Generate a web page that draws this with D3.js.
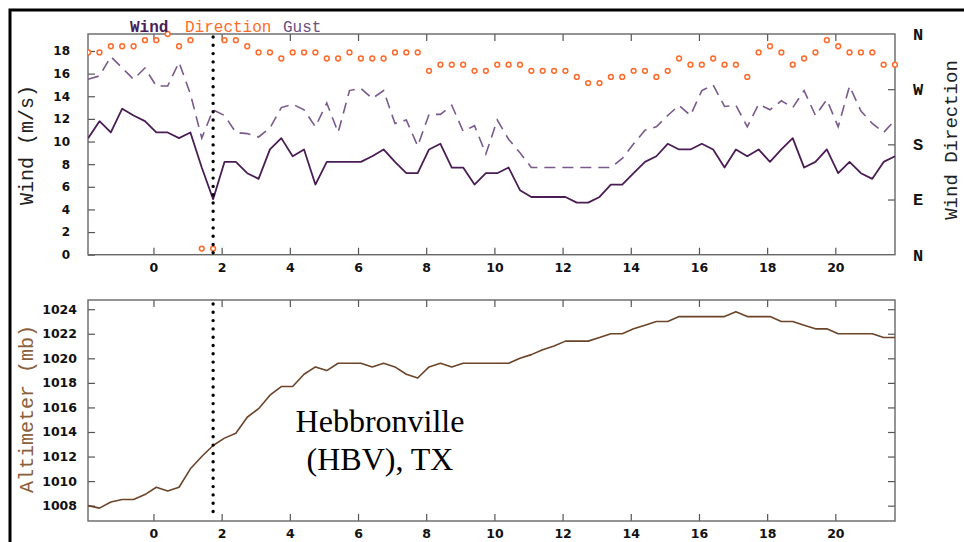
<!DOCTYPE html>
<html>
<head>
<meta charset="utf-8">
<script src="https://cdn.jsdelivr.net/npm/d3@7/dist/d3.min.js"></script>
<style>
  html, body { margin: 0; padding: 0; background: #fff; }
  svg { display: block; }
</style>
</head>
<body>
<svg id="chart" width="964" height="542"></svg>
<script>
// Observation times (local), 20-minute reports starting the previous evening
const obsTimes = [
  "22:05","22:25","22:45","23:05","23:25","23:45",
  "00:05","00:25","00:45","01:05","01:25","01:45","02:05","02:25","02:45",
  "03:05","03:25","03:45","04:05","04:25","04:45","05:05","05:25","05:45",
  "06:05","06:25","06:45","07:05","07:25","07:45","08:05","08:25","08:45",
  "09:05","09:25","09:45","10:05","10:25","10:45","11:05","11:25","11:45",
  "12:05","12:25","12:45","13:05","13:25","13:45","14:05","14:25","14:45",
  "15:05","15:25","15:45","16:05","16:25","16:45","17:05","17:25","17:45",
  "18:05","18:25","18:45","19:05","19:25","19:45","20:05","20:25","20:45",
  "21:05","21:25","21:45"
];

// Sustained wind speed (m/s)
const windSpeed = [
  10.3, 11.8, 10.8, 12.9, 12.3, 11.8, 10.8, 10.8, 10.3, 10.8, 7.7, 4.9,
  8.2, 8.2, 7.2, 6.7, 9.3, 10.3, 8.7, 9.3, 6.2, 8.2, 8.2, 8.2,
  8.2, 8.7, 9.3, 8.2, 7.2, 7.2, 9.3, 9.8, 7.7, 7.7, 6.2, 7.2,
  7.2, 7.7, 5.7, 5.1, 5.1, 5.1, 5.1, 4.6, 4.6, 5.1, 6.2, 6.2,
  7.2, 8.2, 8.7, 9.8, 9.3, 9.3, 9.8, 9.3, 7.7, 9.3, 8.7, 9.3,
  8.2, 9.3, 10.3, 7.7, 8.2, 9.3, 7.2, 8.2, 7.2, 6.7, 8.2, 8.7
];

// Wind gust (m/s)
const windGust = [
  15.5, 15.8, 17.5, 16.5, 15.5, 16.5, 14.9, 14.9, 17.0, 14.2, 10.3, 12.8,
  12.3, 10.8, 10.7, 10.4, 11.2, 13.0, 13.3, 12.8, 11.3, 13.4, 10.8, 14.5,
  14.7, 13.8, 14.5, 11.6, 11.9, 9.6, 12.4, 12.4, 13.2, 10.9, 11.4, 8.9,
  11.9, 10.2, 9.0, 7.7, 7.7, 7.7, 7.7, 7.7, 7.7, 7.7, 7.7, 8.5,
  9.8, 11.0, 11.3, 12.3, 13.2, 12.3, 14.5, 15.0, 13.1, 13.2, 11.3, 13.3,
  12.8, 13.6, 13.0, 14.5, 12.3, 13.7, 11.3, 14.9, 12.7, 11.6, 10.8, 11.9
];

// Wind direction (degrees from north)
const windDir = [
  330, 330, 340, 340, 340, 350, 350, 360, 340, 350, 10, 10,
  350, 350, 340, 330, 330, 320, 330, 330, 330, 320, 320, 330,
  320, 320, 320, 330, 330, 330, 300, 310, 310, 310, 300, 300,
  310, 310, 310, 300, 300, 300, 300, 290, 280, 280, 290, 290,
  300, 300, 290, 300, 320, 310, 310, 320, 310, 310, 290, 330,
  340, 330, 310, 320, 330, 350, 340, 330, 330, 330, 310, 310
];

// Altimeter setting (mb)
const altimeter = [
  1008.0, 1007.8, 1008.3, 1008.5, 1008.5, 1008.9, 1009.5, 1009.2, 1009.5, 1011.0, 1012.0, 1012.9,
  1013.5, 1013.9, 1015.2, 1015.9, 1017.0, 1017.7, 1017.7, 1018.7, 1019.3, 1019.0, 1019.6, 1019.6,
  1019.6, 1019.3, 1019.6, 1019.3, 1018.7, 1018.4, 1019.3, 1019.6, 1019.3, 1019.6, 1019.6, 1019.6,
  1019.6, 1019.6, 1020.0, 1020.3, 1020.7, 1021.0, 1021.4, 1021.4, 1021.4, 1021.7, 1022.0, 1022.0,
  1022.4, 1022.7, 1023.0, 1023.0, 1023.4, 1023.4, 1023.4, 1023.4, 1023.4, 1023.8, 1023.4, 1023.4,
  1023.4, 1023.0, 1023.0, 1022.7, 1022.4, 1022.4, 1022.0, 1022.0, 1022.0, 1022.0, 1021.7, 1021.7
];

const hourTicks = [0, 2, 4, 6, 8, 10, 12, 14, 16, 18, 20];
const windTicks = [0, 2, 4, 6, 8, 10, 12, 14, 16, 18];
const dirTicks = [0, 90, 180, 270, 360];
const dirTickLabels = ["N", "E", "S", "W", "N"];
const altTicks = [1008, 1010, 1012, 1014, 1016, 1018, 1020, 1022, 1024];
const eventTime = "01:45";
const stationLabel = ["Hebbronville", "(HBV), TX"];
const legendItems = [
  { label: "Wind", color: "#4a1d55", weight: "bold" },
  { label: "Direction", color: "#ff6a2a", weight: "normal" },
  { label: "Gust", color: "#6e4f80", weight: "normal" }
];

// Convert "HH:MM" strings to hours relative to midnight; reports before
// the first midnight crossing belong to the previous day.
function toHours(list) {
  let offset = -24, prev = -Infinity;
  return list.map(s => {
    const [h, m] = s.split(":").map(Number);
    const raw = h + m / 60;
    if (raw < prev) offset += 24;
    prev = raw;
    return raw + offset;
  });
}
const hours = toHours(obsTimes);
const eventHour = toHours(["22:00", eventTime])[1];

const rows = hours.map((t, i) => ({
  t, wind: windSpeed[i], gust: windGust[i], dir: windDir[i], alt: altimeter[i]
}));

const svg = d3.select("#chart");
const L = 88, R = 895;
const top1 = 34, bot1 = 254.7;
const top2 = 300, bot2 = 521;

const x = d3.scaleLinear().domain([-1.92, 21.75]).range([L, R]);
const yWind = d3.scaleLinear().domain([0, 19.5]).range([bot1, top1]);
const yDir = d3.scaleLinear().domain([0, 360]).range([bot1, top1]);
const yAlt = d3.scaleLinear().domain([1006.75, 1024.75]).range([bot2, top2]);

const tickFont = "'DejaVu Sans', Verdana, sans-serif";
const monoFont = "'Liberation Mono', 'Courier New', monospace";
const intFmt = d3.format("d");

function styleAxis(g, fontSize) {
  g.select(".domain").remove();
  g.selectAll(".tick line").attr("stroke", "#555").attr("stroke-width", 1.2);
  g.selectAll(".tick text")
    .attr("fill", "#111")
    .style("font-family", tickFont)
    .style("font-weight", "bold")
    .style("font-size", fontSize + "px");
}

// Outer border
svg.append("path")
  .attr("d", "M10,545V10H967")
  .attr("fill", "none").attr("stroke", "#000").attr("stroke-width", 3);

svg.append("defs").call(d => {
  d.append("clipPath").attr("id", "clipTop")
    .append("rect").attr("x", L).attr("y", top1 - 4).attr("width", R - L + 3).attr("height", bot1 - top1 + 4);
  d.append("clipPath").attr("id", "clipBot")
    .append("rect").attr("x", L).attr("y", top2).attr("width", R - L).attr("height", bot2 - top2);
});

// ---------- Upper panel: wind ----------
const p1 = svg.append("g");

p1.append("g").attr("transform", `translate(0,${bot1})`)
  .call(d3.axisBottom(x).tickValues(hourTicks).tickSizeInner(-7).tickSizeOuter(0).tickPadding(8).tickFormat(intFmt))
  .call(g => styleAxis(g, 12.5));
p1.append("g").attr("transform", `translate(0,${top1})`)
  .call(d3.axisTop(x).tickValues(hourTicks).tickSizeInner(-7).tickSizeOuter(0).tickFormat(""))
  .call(g => styleAxis(g, 12.5));
p1.append("g").attr("transform", `translate(${L},0)`)
  .call(d3.axisLeft(yWind).tickValues(windTicks).tickSizeInner(-7).tickSizeOuter(0).tickPadding(18).tickFormat(intFmt))
  .call(g => styleAxis(g, 12));
p1.append("g").attr("transform", `translate(${R},0)`)
  .call(d3.axisRight(yDir).tickValues(dirTicks).tickSizeInner(-7).tickSizeOuter(0).tickPadding(18)
    .tickFormat((d, i) => dirTickLabels[i]))
  .call(g => {
    styleAxis(g, 17);
    g.selectAll(".tick text").style("font-family", monoFont);
    g.selectAll(".tick").filter(d => d === 0 || d === 360).select("line").remove();
  });

p1.append("rect")
  .attr("x", L).attr("y", top1).attr("width", R - L).attr("height", bot1 - top1)
  .attr("fill", "none").attr("stroke", "#666").attr("stroke-width", 1.4);

const plot1 = p1.append("g").attr("clip-path", "url(#clipTop)");

plot1.append("path").datum(rows)
  .attr("fill", "none").attr("stroke", "#7a5a8c").attr("stroke-width", 1.6)
  .attr("stroke-dasharray", "11,7")
  .attr("d", d3.line().x(d => x(d.t)).y(d => yWind(d.gust)));

plot1.append("path").datum(rows)
  .attr("fill", "none").attr("stroke", "#4a1d55").attr("stroke-width", 1.8)
  .attr("stroke-linejoin", "round")
  .attr("d", d3.line().x(d => x(d.t)).y(d => yWind(d.wind)));

plot1.selectAll("circle.dir").data(rows).join("circle")
  .attr("class", "dir")
  .attr("cx", d => x(d.t)).attr("cy", d => yDir(d.dir))
  .attr("r", 2.4)
  .attr("fill", "#fff").attr("stroke", "#ff6a2a").attr("stroke-width", 1.5);

p1.append("line")
  .attr("x1", x(eventHour)).attr("x2", x(eventHour))
  .attr("y1", top1 + 3).attr("y2", bot1 - 1)
  .attr("stroke", "#000").attr("stroke-width", 3.4)
  .attr("stroke-linecap", "round").attr("stroke-dasharray", "0,8.3");

// Legend
const legendX = [130, 185, 283];
svg.append("g").selectAll("text").data(legendItems).join("text")
  .attr("x", (d, i) => legendX[i]).attr("y", 32)
  .attr("fill", d => d.color)
  .style("font-family", monoFont).style("font-size", "16px")
  .style("font-weight", d => d.weight)
  .text(d => d.label);

// Axis titles
svg.append("text")
  .attr("transform", "translate(33,145) rotate(-90)")
  .attr("text-anchor", "middle")
  .attr("fill", "#222")
  .style("font-family", monoFont).style("font-size", "20px")
  .text("Wind (m/s)");
svg.append("text")
  .attr("transform", "translate(957,140) rotate(-90)")
  .attr("text-anchor", "middle")
  .attr("fill", "#222")
  .style("font-family", monoFont).style("font-size", "19px")
  .text("Wind Direction");

// ---------- Lower panel: altimeter ----------
const p2 = svg.append("g");

p2.append("g").attr("transform", `translate(0,${bot2})`)
  .call(d3.axisBottom(x).tickValues(hourTicks).tickSizeInner(-7).tickSizeOuter(0).tickPadding(8).tickFormat(intFmt))
  .call(g => styleAxis(g, 12.5));
p2.append("g").attr("transform", `translate(0,${top2})`)
  .call(d3.axisTop(x).tickValues(hourTicks).tickSizeInner(-7).tickSizeOuter(0).tickFormat(""))
  .call(g => styleAxis(g, 12.5));
p2.append("g").attr("transform", `translate(${L},0)`)
  .call(d3.axisLeft(yAlt).tickValues(altTicks).tickSizeInner(-7).tickSizeOuter(0).tickPadding(11).tickFormat(intFmt))
  .call(g => styleAxis(g, 12.5));
p2.append("g").attr("transform", `translate(${R},0)`)
  .call(d3.axisRight(yAlt).tickValues(altTicks).tickSizeInner(-7).tickSizeOuter(0).tickFormat(""))
  .call(g => styleAxis(g, 12.5));

p2.append("rect")
  .attr("x", L).attr("y", top2).attr("width", R - L).attr("height", bot2 - top2)
  .attr("fill", "none").attr("stroke", "#666").attr("stroke-width", 1.4);

p2.append("g").attr("clip-path", "url(#clipBot)")
  .append("path").datum(rows)
  .attr("fill", "none").attr("stroke", "#6b4429").attr("stroke-width", 1.6)
  .attr("stroke-linejoin", "round")
  .attr("d", d3.line().x(d => x(d.t)).y(d => yAlt(d.alt)));

p2.append("line")
  .attr("x1", x(eventHour)).attr("x2", x(eventHour))
  .attr("y1", top2 + 4).attr("y2", bot2 - 9)
  .attr("stroke", "#000").attr("stroke-width", 3.4)
  .attr("stroke-linecap", "round").attr("stroke-dasharray", "0,8.3");

svg.append("text")
  .attr("transform", "translate(33,409) rotate(-90)")
  .attr("text-anchor", "middle")
  .attr("fill", "#8b5e3c")
  .style("font-family", monoFont).style("font-size", "20px")
  .text("Altimeter (mb)");

// Station label
svg.append("g").selectAll("text").data(stationLabel).join("text")
  .attr("x", 380).attr("y", (d, i) => 432 + i * 38)
  .attr("text-anchor", "middle")
  .attr("fill", "#000")
  .style("font-family", "'Liberation Serif', 'Times New Roman', serif")
  .style("font-size", "32px")
  .text(d => d);
</script>
</body>
</html>
